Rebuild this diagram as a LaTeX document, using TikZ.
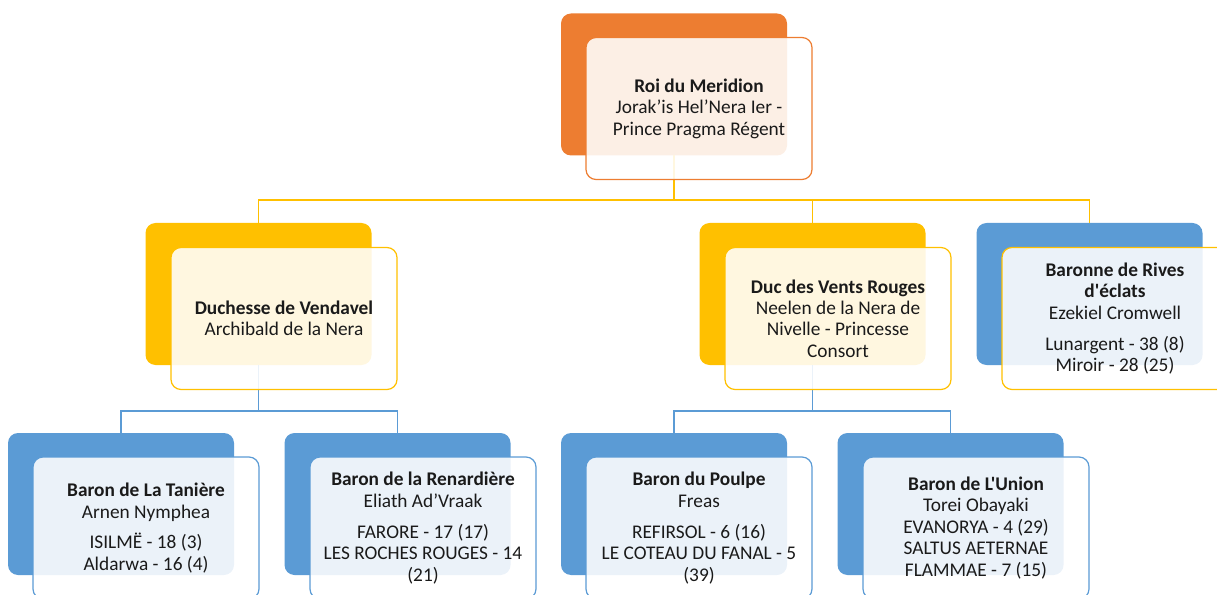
\documentclass[tikz,border=0pt]{standalone}
\usepackage{fontspec}
\setmainfont{Carlito}[Ligatures=TeXOff]
\definecolor{orng}{HTML}{ED7D31}
\definecolor{gold}{HTML}{FFC000}
\definecolor{blu}{HTML}{5B9BD5}
\definecolor{txt}{HTML}{1A1A1A}
\begin{document}
\begin{tikzpicture}[x=0.75pt,y=-0.75pt,
  box/.style={rectangle, rounded corners=7.5pt, minimum width=169.5pt, minimum height=106.5pt, inner sep=0pt, outer sep=0pt},
  backbox/.style={box, fill=#1},
  frontbox/.style={box, draw=#1, line width=0.9pt, fill=white, fill opacity=0.88, text opacity=1, align=center, font=\fontsize{14.5}{16.1}\selectfont, text=txt},
  ylink/.style={draw=gold, line width=1.1pt},
  blink/.style={draw=blu, line width=1.1pt}]
\useasboundingbox (0,0) rectangle (1217,595);
% back boxes
\node[backbox=orng] (rb) at (674,84.5) {};
\node[backbox=gold] (dvb) at (258.5,294) {};
\node[backbox=gold] (vrb) at (812.5,294) {};
\node[backbox=blu] (rvb) at (1089.5,294) {};
\node[backbox=blu] (tnb) at (121,504) {};
\node[backbox=blu] (rnb) at (397.5,504) {};
\node[backbox=blu] (plb) at (674,504) {};
\node[backbox=blu] (unb) at (950.5,504) {};
% connectors
\coordinate (j1) at (674,200);
\coordinate (j2) at (258.5,411);
\coordinate (j3) at (812.5,411);
\draw[ylink] (rb.south) -- (j1);
\draw[ylink] (j1) -| (dvb.north);
\draw[ylink] (j1) -| (vrb.north);
\draw[ylink] (j1) -| (rvb.north);
\draw[blink] (dvb.south) -- (j2);
\draw[blink] (j2) -| (tnb.north);
\draw[blink] (j2) -| (rnb.north);
\draw[blink] (vrb.south) -- (j3);
\draw[blink] (j3) -| (plb.north);
\draw[blink] (j3) -| (unb.north);
% front boxes
\node[frontbox=orng] (rf) at (699,108.5) {{\bfseries Roi du Meridion}\\Jorak’is Hel’Nera Ier -\\Prince Pragma Régent};
\node[frontbox=gold] (dvf) at (284,318.5) {{\bfseries Duchesse de Vendavel}\\Archibald de la Nera};
\node[frontbox=gold] (vrf) at (838,318.5) {{\bfseries Duc des Vents Rouges}\\Neelen de la Nera de\\Nivelle - Princesse\\Consort};
\node[frontbox=gold] (rvf) at (1115,318.5) {{\bfseries Baronne de Rives}\\{\bfseries d'éclats}\\Ezekiel Cromwell\\[7pt]Lunargent - 38 (8)\\Miroir - 28 (25)};
\node[frontbox=blu] (tnf) at (146,528) {{\bfseries Baron de La Tanière}\\Arnen Nymphea\\[7pt]ISILMË - 18 (3)\\Aldarwa - 16 (4)};
\node[frontbox=blu] (rnf) at (423,528) {{\bfseries Baron de la Renardière}\\Eliath Ad’Vraak\\[7pt]FARORE - 17 (17)\\LES ROCHES ROUGES - 14\\(21)};
\node[frontbox=blu] (plf) at (699,528) {{\bfseries Baron du Poulpe}\\Freas\\[7pt]REFIRSOL - 6 (16)\\LE COTEAU DU FANAL - 5\\(39)};
\node[frontbox=blu] (unf) at (976,528) {{\bfseries Baron de L'Union}\\Torei Obayaki\\EVANORYA - 4 (29)\\SALTUS AETERNAE\\FLAMMAE - 7 (15)};
\end{tikzpicture}
\end{document}
